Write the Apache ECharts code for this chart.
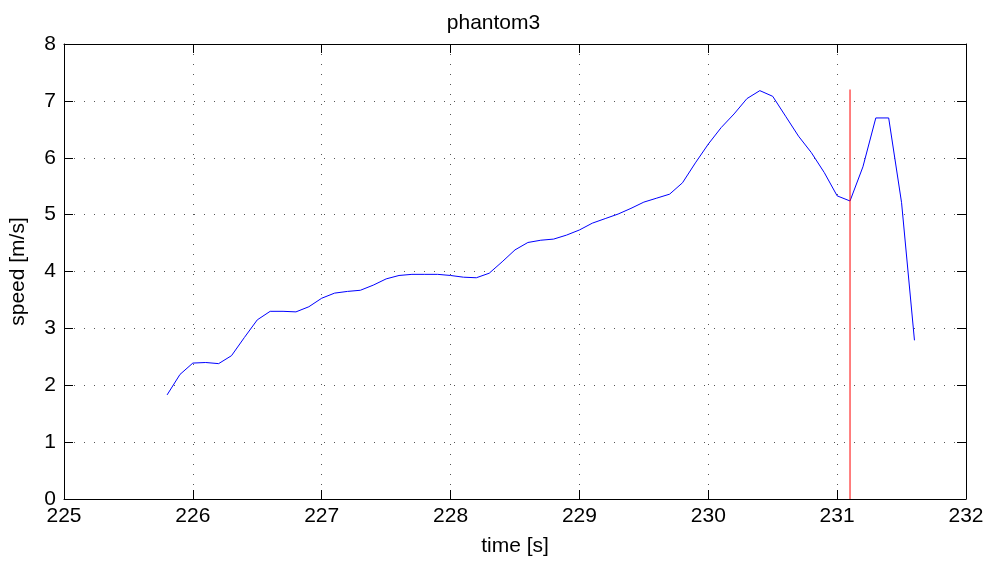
<!DOCTYPE html>
<html>
<head>
<meta charset="utf-8">
<script src="https://cdn.jsdelivr.net/npm/echarts@6/dist/echarts.min.js"></script>
<style>
  html, body { margin: 0; padding: 0; background: #fff; }
  #main { width: 987px; height: 562px; }
</style>
</head>
<body>
<div id="main"></div>
<script>
// time stamps [s]
var times = [
  225.8, 225.9, 226.0, 226.1, 226.2, 226.3, 226.4, 226.5, 226.6, 226.7,
  226.8, 226.9, 227.0, 227.1, 227.2, 227.3, 227.4, 227.5, 227.6, 227.7,
  227.8, 227.9, 228.0, 228.1, 228.2, 228.3, 228.4, 228.5, 228.6, 228.7,
  228.8, 228.9, 229.0, 229.1, 229.2, 229.3, 229.4, 229.5, 229.6, 229.7,
  229.8, 229.9, 230.0, 230.1, 230.2, 230.3, 230.4, 230.5, 230.6, 230.7,
  230.8, 230.9, 231.0, 231.1, 231.2, 231.3, 231.4, 231.5, 231.6
];
// speed [m/s]
var speeds = [
  1.83, 2.19, 2.39, 2.40, 2.38, 2.52, 2.84, 3.15, 3.30, 3.30,
  3.29, 3.38, 3.53, 3.62, 3.65, 3.67, 3.76, 3.87, 3.93, 3.95,
  3.95, 3.95, 3.93, 3.90, 3.89, 3.97, 4.17, 4.38, 4.51, 4.55,
  4.57, 4.64, 4.73, 4.85, 4.93, 5.01, 5.11, 5.22, 5.29, 5.36,
  5.56, 5.91, 6.24, 6.53, 6.77, 7.04, 7.18, 7.08, 6.73, 6.38,
  6.09, 5.74, 5.33, 5.24, 5.84, 6.70, 6.70, 5.21, 2.79
];
// red marker line
var markerTime = 231.1;
var markerSpan = [0, 7.2];

var lineData = times.map(function (t, i) { return [t, speeds[i]]; });
var markerData = markerSpan.map(function (v) { return [markerTime, v]; });

var font = 'Liberation Sans, Arial, Helvetica, sans-serif';
var gridLine = { show: true, lineStyle: { color: '#555', width: 1, type: [1, 9] } };
var frame = { show: true, onZero: false, lineStyle: { color: '#000', width: 1 } };
var ticks = { show: true, inside: true, length: 9, lineStyle: { color: '#000' } };

var chart = echarts.init(document.getElementById('main'));
chart.setOption({
  animation: false,
  backgroundColor: '#fff',
  title: {
    text: 'phantom3',
    left: 'center',
    top: 8,
    textStyle: { fontFamily: font, fontSize: 21, fontWeight: 'normal', color: '#000' }
  },
  grid: { left: 62, right: 21, top: 44, bottom: 61 },
  xAxis: [{
    type: 'value', min: 225, max: 232, interval: 1,
    name: 'time [s]', nameLocation: 'middle', nameGap: 37,
    nameTextStyle: { fontFamily: font, fontSize: 21, color: '#000' },
    axisLine: frame,
    axisTick: ticks,
    axisLabel: { fontFamily: font, fontSize: 21, color: '#000', margin: 7 },
    splitLine: gridLine
  }, {
    type: 'value', min: 225, max: 232, interval: 1, position: 'top',
    axisLine: frame,
    axisTick: ticks,
    axisLabel: { show: false },
    splitLine: { show: false }
  }],
  yAxis: [{
    type: 'value', min: 0, max: 8, interval: 1,
    name: 'speed [m/s]', nameLocation: 'middle', nameGap: 35,
    nameTextStyle: { fontFamily: font, fontSize: 21, color: '#000' },
    axisLine: frame,
    axisTick: ticks,
    axisLabel: { fontFamily: font, fontSize: 21, color: '#000', margin: 8 },
    splitLine: gridLine
  }, {
    type: 'value', min: 0, max: 8, interval: 1, position: 'right',
    axisLine: frame,
    axisTick: ticks,
    axisLabel: { show: false },
    splitLine: { show: false }
  }],
  series: [{
    type: 'line',
    data: lineData,
    showSymbol: false,
    lineStyle: { color: '#0000ff', width: 1 },
    z: 3
  }, {
    type: 'line',
    data: markerData,
    showSymbol: false,
    lineStyle: { color: '#ff0000', width: 1 },
    z: 4
  }]
});
</script>
</body>
</html>
